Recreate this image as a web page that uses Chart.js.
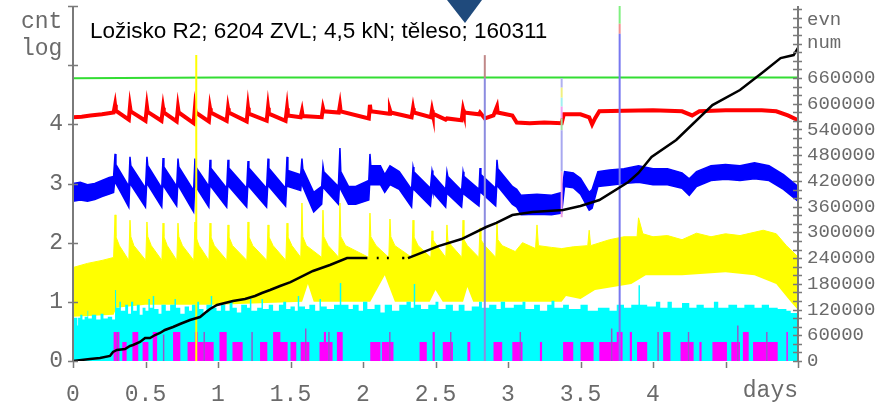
<!DOCTYPE html>
<html>
<head>
<meta charset="utf-8">
<script src="https://cdn.jsdelivr.net/npm/chart.js@4.4.1/dist/chart.umd.min.js"></script>
<style>
  html, body { margin: 0; background: #fff; }
  canvas { display: block; }
</style>
</head>
<body>
<canvas id="graf" width="885" height="405"></canvas>
<script>
// Popisky
const title = 'Ložisko R2; 6204 ZVL; 4,5 kN; těleso; 160311';
const xTickLabels = [0, 0.5, 1, 1.5, 2, 2.5, 3, 3.5, 4];
const leftTickLabels = [0, 1, 2, 3, 4];
const rightTickLabels = [0, 60000, 120000, 180000, 240000, 300000, 360000, 420000, 480000, 540000, 600000, 660000];

// Řady: [den, log10 počtu]
const greenLine = [[0, 4.78], [1, 4.79], [2, 4.79], [3, 4.79], [4, 4.79], [5, 4.79]];

const redLine = [
  [0, 4.12], [0.06, 4.13], [0.12, 4.15], [0.2, 4.17], [0.28, 4.2],
  [0.29, 4.33], [0.295, 4.23], [0.385, 4.08],
  [0.393, 4.3], [0.398, 4.22], [0.5, 4.06],
  [0.51, 4.3], [0.515, 4.21], [0.61, 4.06],
  [0.621, 4.28], [0.626, 4.2], [0.715, 4.05],
  [0.724, 4.28], [0.729, 4.2], [0.832, 4.02],
  [0.841, 4.28], [0.846, 4.2], [0.937, 4.05],
  [0.945, 4.27], [0.95, 4.2], [1.06, 4.06],
  [1.069, 4.27], [1.074, 4.2], [1.198, 4.05],
  [1.207, 4.28], [1.212, 4.18], [1.336, 4.06],
  [1.345, 4.28], [1.35, 4.18], [1.466, 4.06],
  [1.476, 4.27], [1.481, 4.15], [1.57, 4.12],
  [1.579, 4.22], [1.584, 4.14], [1.715, 4.12],
  [1.724, 4.27], [1.729, 4.22], [1.833, 4.2],
  [1.841, 4.32], [1.846, 4.22], [2.04, 4.1],
  [2.048, 4.33], [2.053, 4.22], [2.18, 4.18],
  [2.186, 4.24], [2.191, 4.2], [2.335, 4.12],
  [2.345, 4.27], [2.35, 4.2], [2.468, 4.12],
  [2.476, 4.24], [2.481, 4.18], [2.57, 4.08],
  [2.579, 4.1], [2.68, 4.07],
  [2.69, 4.25], [2.695, 4.2], [2.8, 4.17],
  [2.807, 4.2], [2.84, 4.1], [2.9, 4.15],
  [2.924, 4.3], [2.929, 4.2], [3.03, 4.15],
  [3.06, 4.03], [3.15, 4.02], [3.25, 4.03], [3.37, 4.02],
  [3.385, 4.17], [3.5, 4.17], [3.56, 4.12], [3.58, 4.0], [3.6, 4.1], [3.63, 4.22],
  [3.8, 4.23], [4.0, 4.24], [4.2, 4.22], [4.27, 4.15], [4.32, 4.22], [4.5, 4.24],
  [4.75, 4.24], [4.85, 4.22], [4.93, 4.15], [5.0, 4.07]
];

// modrá: [den, horní, dolní]
const blueBand = [
  [0, 3.0, 2.7], [0.05, 3.02, 2.72], [0.1, 2.98, 2.7], [0.15, 3.0, 2.73], [0.2, 3.05, 2.78],
  [0.25, 3.1, 2.82], [0.28, 3.12, 2.85],
  [0.29, 3.5, 3.1], [0.296, 3.32, 3.0], [0.33, 3.18, 2.85], [0.385, 2.95, 2.6],
  [0.393, 3.45, 3.08], [0.399, 3.3, 2.98], [0.5, 2.92, 2.6],
  [0.51, 3.45, 3.08], [0.516, 3.3, 2.98], [0.612, 2.92, 2.6],
  [0.621, 3.43, 3.06], [0.627, 3.28, 2.95], [0.715, 2.95, 2.62],
  [0.724, 3.42, 3.06], [0.73, 3.28, 2.95], [0.832, 2.88, 2.52],
  [0.841, 3.42, 3.06], [0.847, 3.28, 2.95], [0.937, 2.95, 2.6],
  [0.945, 3.4, 3.04], [0.951, 3.26, 2.95], [1.06, 2.92, 2.6],
  [1.069, 3.4, 3.04], [1.075, 3.26, 2.95], [1.198, 2.92, 2.6],
  [1.207, 3.38, 3.04], [1.213, 3.26, 2.95], [1.335, 2.92, 2.6],
  [1.345, 3.42, 3.06], [1.351, 3.26, 2.95], [1.466, 2.92, 2.62],
  [1.476, 3.45, 3.08], [1.482, 3.22, 2.95], [1.57, 3.15, 2.88],
  [1.579, 3.42, 3.08], [1.585, 3.25, 2.95], [1.66, 2.85, 2.52], [1.715, 2.95, 2.65],
  [1.724, 3.3, 3.0], [1.73, 3.2, 2.92], [1.83, 2.95, 2.65],
  [1.841, 3.6, 3.08], [1.847, 3.2, 2.9], [1.9, 2.95, 2.65], [1.95, 2.95, 2.65], [2.04, 3.05, 2.72],
  [2.048, 3.5, 3.08], [2.054, 3.3, 2.98], [2.12, 3.3, 2.98], [2.15, 3.15, 2.85],
  [2.186, 3.3, 2.98], [2.25, 3.2, 2.9], [2.335, 2.9, 2.6],
  [2.345, 3.28, 2.98], [2.351, 3.2, 2.9], [2.465, 2.92, 2.62],
  [2.476, 3.22, 2.92], [2.482, 3.15, 2.85], [2.57, 2.9, 2.6],
  [2.579, 3.2, 2.9], [2.585, 3.12, 2.82], [2.68, 2.88, 2.6],
  [2.69, 3.2, 2.9], [2.696, 3.12, 2.82], [2.8, 2.9, 2.62],
  [2.807, 3.26, 2.95], [2.813, 3.15, 2.85], [2.915, 2.92, 2.62],
  [2.924, 3.4, 3.04], [2.93, 3.25, 2.95], [3.03, 2.95, 2.65], [3.06, 2.9, 2.6],
  [3.09, 2.8, 2.47], [3.2, 2.82, 2.48], [3.3, 2.8, 2.47], [3.37, 2.85, 2.5],
  [3.39, 3.2, 2.95], [3.45, 3.18, 2.93], [3.5, 3.09, 2.82], [3.56, 2.85, 2.55], [3.58, 2.9, 2.58],
  [3.62, 3.2, 2.95], [3.7, 3.23, 2.97], [3.8, 3.25, 3.0], [3.9, 3.3, 3.02], [4.0, 3.25, 2.98],
  [4.1, 3.25, 2.98], [4.2, 3.18, 2.92], [4.25, 3.08, 2.8], [4.3, 3.2, 2.95], [4.4, 3.3, 3.05],
  [4.5, 3.32, 3.07], [4.6, 3.3, 3.05], [4.7, 3.35, 3.08], [4.8, 3.3, 3.05], [4.9, 3.15, 2.9],
  [5.0, 2.95, 2.7]
];

const yellowTop = [
  [0, 1.58], [0.1, 1.65], [0.2, 1.7], [0.28, 1.75],
  [0.29, 2.47], [0.296, 2.1], [0.32, 1.95], [0.385, 1.7],
  [0.393, 2.38], [0.399, 2.1], [0.42, 1.95], [0.502, 1.7],
  [0.51, 2.35], [0.516, 2.1], [0.54, 1.95], [0.613, 1.7],
  [0.621, 2.33], [0.627, 2.1], [0.65, 1.95], [0.716, 1.7],
  [0.724, 2.33], [0.73, 2.1], [0.755, 1.95], [0.833, 1.7],
  [0.841, 2.35], [0.847, 2.1], [0.87, 1.95], [0.937, 1.7],
  [0.945, 2.33], [0.951, 2.1], [0.975, 1.95], [1.061, 1.7],
  [1.069, 2.3], [1.075, 2.1], [1.1, 1.95], [1.199, 1.7],
  [1.207, 2.35], [1.213, 2.1], [1.24, 1.95], [1.337, 1.7],
  [1.345, 2.3], [1.351, 2.1], [1.38, 1.95], [1.468, 1.7],
  [1.476, 2.33], [1.482, 2.1], [1.51, 1.95], [1.571, 1.75],
  [1.579, 2.67], [1.585, 2.1], [1.61, 1.95], [1.716, 1.75],
  [1.724, 2.55], [1.73, 2.1], [1.76, 1.95], [1.833, 1.75],
  [1.841, 2.67], [1.847, 2.1], [1.88, 1.95], [2.04, 1.75],
  [2.048, 2.5], [2.054, 2.1], [2.09, 1.95], [2.178, 1.75],
  [2.186, 2.4], [2.192, 2.1], [2.22, 1.95], [2.337, 1.75],
  [2.345, 2.38], [2.351, 2.1], [2.38, 1.95], [2.468, 1.75],
  [2.476, 2.2], [2.482, 2.05], [2.51, 1.95], [2.571, 1.75],
  [2.579, 2.3], [2.585, 2.05], [2.61, 1.95], [2.682, 1.75],
  [2.69, 2.38], [2.696, 2.05], [2.72, 1.95], [2.799, 1.75],
  [2.807, 2.25], [2.813, 2.05], [2.84, 1.95], [2.916, 1.75],
  [2.924, 2.33], [2.93, 2.05], [2.96, 1.95], [3.05, 1.85],
  [3.1, 2.0], [3.19, 1.9], [3.2, 2.3], [3.21, 1.95], [3.3, 1.92], [3.37, 1.9],
  [3.45, 1.93], [3.55, 1.95], [3.56, 2.21], [3.57, 1.95], [3.7, 2.05], [3.8, 2.1],
  [3.89, 2.1], [3.9, 2.42], [3.93, 2.15], [4.0, 2.1], [4.1, 2.12], [4.2, 2.05],
  [4.3, 2.16], [4.4, 2.1], [4.5, 2.15], [4.6, 2.12], [4.76, 2.21], [4.85, 2.15],
  [4.92, 1.95], [5.0, 1.76]
];

const yellowBottom = [
  [0, 0.75], [0.28, 0.78], [0.3, 0.9], [0.5, 0.95], [1.0, 0.95], [1.58, 1.0],
  [1.62, 1.3], [1.66, 1.0], [2.05, 1.0], [2.15, 1.45], [2.22, 1.0], [2.46, 1.0],
  [2.5, 1.2], [2.55, 1.0], [2.69, 1.0], [2.72, 1.25], [2.76, 1.0], [3.37, 1.0],
  [3.4, 1.1], [3.5, 1.05], [3.6, 1.2], [3.85, 1.3], [3.95, 1.45], [4.2, 1.45],
  [4.5, 1.5], [4.7, 1.45], [4.85, 1.3], [4.95, 1.0], [5.0, 0.86]
];

// schodovité řady (hodnota platí do dalšího bodu)
const cyanSteps = [
  [0, 0.73], [0.03, 0.6], [0.035, 0.73], [0.05, 0.78], [0.065, 0.7], [0.08, 0.75], [0.1, 0.85],
  [0.105, 0.72], [0.13, 0.78], [0.16, 0.7], [0.19, 0.8], [0.21, 0.72], [0.24, 0.75], [0.27, 0.7],
  [0.29, 1.2], [0.297, 0.9], [0.32, 1.0], [0.33, 0.85], [0.36, 0.95], [0.38, 0.8], [0.4, 1.0],
  [0.415, 0.85], [0.44, 0.95], [0.46, 0.78], [0.48, 0.9], [0.5, 0.85], [0.52, 1.05], [0.53, 0.9],
  [0.55, 1.1], [0.56, 0.88], [0.59, 0.8], [0.61, 0.95], [0.64, 0.85], [0.67, 0.95], [0.7, 1.05],
  [0.71, 0.9], [0.74, 0.8], [0.77, 0.92], [0.8, 0.85], [0.82, 0.95], [0.85, 1.0], [0.87, 0.88],
  [0.9, 0.8], [0.92, 0.95], [0.95, 1.1], [0.96, 0.9], [0.99, 0.85], [1.02, 0.95], [1.05, 0.85],
  [1.08, 1.0], [1.1, 0.9], [1.13, 0.82], [1.16, 0.95], [1.2, 0.9], [1.22, 1.05], [1.23, 0.85],
  [1.27, 0.9], [1.3, 1.05], [1.31, 0.88], [1.35, 0.95], [1.38, 0.85], [1.42, 0.95], [1.45, 1.0],
  [1.47, 0.88], [1.5, 0.92], [1.53, 0.85], [1.55, 1.1], [1.56, 0.92], [1.6, 0.88], [1.63, 0.95],
  [1.67, 0.85], [1.7, 1.05], [1.71, 0.92], [1.75, 0.88], [1.8, 0.95], [1.84, 1.32], [1.85, 0.95],
  [1.9, 0.88], [1.93, 0.95], [1.97, 0.85], [2.0, 1.0], [2.03, 0.88], [2.08, 0.95], [2.12, 0.82],
  [2.15, 0.95], [2.2, 0.85], [2.25, 0.95], [2.3, 1.0], [2.33, 0.9], [2.35, 1.3], [2.36, 0.95],
  [2.4, 0.88], [2.45, 0.95], [2.5, 1.0], [2.52, 0.88], [2.57, 0.95], [2.62, 0.85], [2.66, 0.95],
  [2.7, 0.85], [2.75, 0.92], [2.8, 1.0], [2.82, 0.9], [2.87, 0.95], [2.92, 0.88], [2.95, 1.0],
  [2.98, 0.9], [3.04, 0.95], [3.1, 1.0], [3.12, 0.88], [3.18, 0.95], [3.22, 0.85], [3.27, 0.95],
  [3.3, 1.02], [3.32, 0.9], [3.38, 0.95], [3.42, 0.88], [3.5, 0.95], [3.55, 0.85], [3.62, 0.9],
  [3.7, 0.85], [3.75, 0.95], [3.8, 0.9], [3.85, 0.95], [3.9, 1.28], [3.91, 0.95], [3.96, 0.92],
  [4.02, 1.0], [4.05, 0.9], [4.1, 1.0], [4.13, 0.9], [4.2, 0.98], [4.25, 0.9], [4.3, 0.95],
  [4.35, 0.9], [4.42, 1.0], [4.45, 0.9], [4.52, 0.95], [4.58, 0.9], [4.63, 0.95], [4.7, 0.9],
  [4.75, 0.95], [4.8, 0.9], [4.86, 0.88], [4.92, 0.85], [4.95, 0.81], [5.0, 0.81]
];

const magentaSteps = [
  [0, 0], [0.28, 0.49], [0.32, 0], [0.34, 0.32], [0.37, 0], [0.41, 0.49], [0.45, 0],
  [0.48, 0.32], [0.52, 0], [0.55, 0.49], [0.58, 0], [0.69, 0.49], [0.74, 0], [0.79, 0.32],
  [0.84, 0.49], [0.86, 0.32], [0.97, 0], [1.01, 0.49], [1.06, 0], [1.1, 0.32], [1.17, 0],
  [1.29, 0.32], [1.34, 0], [1.38, 0.49], [1.43, 0.32], [1.48, 0], [1.5, 0.32], [1.54, 0],
  [1.57, 0.32], [1.63, 0], [1.7, 0.32], [1.73, 0.49], [1.745, 0.32], [1.79, 0], [1.82, 0.49],
  [1.86, 0], [2.05, 0.32], [2.12, 0], [2.13, 0.32], [2.21, 0], [2.39, 0.32], [2.44, 0],
  [2.48, 0.49], [2.495, 0], [2.55, 0.32], [2.62, 0], [2.72, 0.32], [2.74, 0], [2.9, 0.32],
  [2.96, 0], [3.03, 0.32], [3.1, 0], [3.22, 0.32], [3.235, 0], [3.38, 0.32], [3.45, 0],
  [3.5, 0.32], [3.59, 0], [3.63, 0.32], [3.75, 0.49], [3.79, 0], [3.84, 0.49], [3.855, 0],
  [3.89, 0.32], [3.96, 0], [4.07, 0.49], [4.12, 0], [4.19, 0.32], [4.28, 0], [4.32, 0.32],
  [4.335, 0], [4.41, 0.32], [4.51, 0], [4.54, 0.32], [4.6, 0], [4.62, 0.49], [4.66, 0],
  [4.69, 0.32], [4.86, 0], [4.92, 0.49], [4.93, 0], [5.0, 0]
];

const purpleSteps = [
  [0, 0], [0.3, 0.49], [0.31, 0], [0.62, 0.45], [0.63, 0], [0.9, 0.49], [0.91, 0],
  [1.23, 0.49], [1.24, 0], [1.6, 0.55], [1.61, 0], [1.76, 0.49], [1.77, 0], [2.18, 0.49],
  [2.19, 0], [2.6, 0.49], [2.61, 0], [3.08, 0.49], [3.09, 0], [3.71, 0.55], [3.72, 0],
  [4.03, 0.49], [4.04, 0], [4.24, 0.49], [4.25, 0], [4.58, 0.6], [4.59, 0], [4.78, 0.49],
  [4.79, 0], [5.0, 0]
];

// svislé čáry: [den, od, do]
const spikeSegments = [
  [0.85, 0, 5.17],
  [2.84, 0, 4.78], [2.84, 4.78, 5.17],
  [3.37, 2.43, 3.2], [3.37, 3.2, 3.9], [3.37, 3.9, 4.1], [3.37, 4.1, 4.3],
  [3.37, 4.3, 4.45], [3.37, 4.45, 4.62], [3.37, 4.62, 4.78],
  [3.77, 0, 5.53], [3.77, 5.53, 5.7], [3.77, 5.7, 6.0]
];
const spikeColors = ['#ffff00', '#8c8ce0', '#c08888', '#f0a0e0', '#a8a8f0', '#a0e0a0', '#f0a0f0',
  '#a0f0f0', '#f0f080', '#b0b0f0', '#7878f0', '#f09090', '#80f080'];

// počet událostí (pravá osa): [den, počet]
const eventCount = [
  [0, 0], [0.117, 4700], [0.186, 7000], [0.255, 11700], [0.276, 21000], [0.303, 25700],
  [0.359, 28000], [0.393, 35000], [0.414, 37300], [0.462, 44300], [0.497, 53600],
  [0.531, 53600], [0.566, 60600], [0.6, 65300], [0.634, 72300], [0.69, 79300],
  [0.738, 86300], [0.807, 95600], [0.876, 102600], [0.91, 112000], [0.945, 121300],
  [0.993, 130600], [1.048, 135300], [1.103, 140000], [1.186, 144600], [1.255, 151600],
  [1.303, 158600], [1.359, 165600], [1.428, 175000], [1.5, 184000], [1.655, 210000],
  [1.772, 224000], [1.89, 240000], [2.03, 240000], [2.06, null],
  [2.095, 240000], [2.108, 240000], [2.13, null], [2.165, 240000], [2.178, 240000], [2.2, null],
  [2.27, 240000], [2.285, 240000], [2.295, null], [2.31, 240000],
  [2.52, 268000], [2.68, 284500], [2.85, 312500], [2.92, 322000], [3.03, 340500],
  [3.17, 347500], [3.38, 352000], [3.5, 361500], [3.63, 375500], [3.83, 417500],
  [3.9, 438500], [3.99, 476000], [4.16, 515500], [4.41, 597000], [4.6, 632000],
  [4.76, 674000], [4.88, 706600], [4.97, 713600], [5.0, 730000]
];

const fontMono = 'Liberation Mono';
const gray = '#6a6a6a';

function toXY(pairs, col = 1) {
  return pairs.map(p => ({ x: p[0], y: p[col] }));
}

function series(data, opts) {
  return Object.assign({
    type: 'line', data, yAxisID: 'y', pointRadius: 0, borderWidth: 0,
    fill: false, tension: 0, spanGaps: false
  }, opts);
}

const datasets = [
  series(toXY(yellowTop), { fill: 'origin', backgroundColor: '#ffff00', borderColor: '#ffff00', borderWidth: 1, order: 9 }),
  series(toXY(yellowBottom), { fill: 'origin', backgroundColor: '#ffffff', order: 8 }),
  series(toXY(cyanSteps), { fill: 'origin', stepped: true, backgroundColor: '#00ffff', order: 7 }),
  series(toXY(magentaSteps), { fill: 'origin', stepped: true, backgroundColor: '#ff00ff', order: 6 }),
  series(toXY(purpleSteps), { fill: 'origin', stepped: true, backgroundColor: '#9955cc', order: 5 }),
  series(toXY(blueBand, 1), { borderColor: '#0000ff', borderWidth: 1.5, order: 4 }),
  series(toXY(blueBand, 2), { fill: '-1', backgroundColor: '#0000ff', borderColor: '#0000ff', borderWidth: 1.5, order: 4 }),
  series(toXY(redLine), { borderColor: '#ff0000', borderWidth: 4, order: 3 }),
  series(toXY(greenLine), { borderColor: '#33dd33', borderWidth: 2, order: 2 }),
  series(toXY(eventCount), { yAxisID: 'y2', borderColor: '#000000', borderWidth: 2.5, order: 0 })
];

// svislé čáry jako samostatné úsečky
spikeSegments.forEach((s, i) => {
  datasets.push(series([{ x: s[0], y: s[1] }, { x: s[0], y: s[2] }],
    { borderColor: spikeColors[i], borderWidth: 2, order: 1 }));
});

// osy, popisky a nadpis
const axesPlugin = {
  id: 'axesPlugin',
  afterDatasetsDraw(chart) {
    const { ctx, chartArea: a, scales: { x, y, y2 } } = chart;
    ctx.save();
    ctx.strokeStyle = '#7a7a7a';
    ctx.lineWidth = 2;
    ctx.beginPath();
    ctx.moveTo(a.left, a.top); ctx.lineTo(a.left, a.bottom);
    ctx.moveTo(a.right, a.top); ctx.lineTo(a.right, a.bottom);
    ctx.stroke();

    ctx.lineWidth = 1.5;
    ctx.beginPath();
    for (let v = 0; v <= 6; v++) {
      const py = Math.round(y.getPixelForValue(v)) + 0.5;
      ctx.moveTo(a.left - 5, py); ctx.lineTo(a.left + 5, py);
    }
    y2.ticks.forEach(t => {
      const py = Math.round(y2.getPixelForValue(t.value)) + 0.5;
      ctx.moveTo(a.right - 5, py); ctx.lineTo(a.right + 4, py);
    });
    x.ticks.forEach(t => {
      const px = Math.round(x.getPixelForValue(t.value)) + 0.5;
      ctx.moveTo(px, a.bottom + 1); ctx.lineTo(px, a.bottom + 7);
    });
    ctx.stroke();
    ctx.restore();
  },
  afterDraw(chart) {
    const { ctx, chartArea: a } = chart;
    ctx.save();
    ctx.fillStyle = '#000';
    ctx.font = '22.5px "Liberation Sans"';
    ctx.textAlign = 'left';
    ctx.textBaseline = 'alphabetic';
    ctx.fillText(title, 90, 38);

    ctx.fillStyle = gray;
    ctx.font = `23px "${fontMono}"`;
    ctx.fillText('cnt', 21, 28);
    ctx.fillText('log', 21, 55);
    ctx.textAlign = 'right';
    ctx.fillText('days', a.right, 397);

    ctx.textAlign = 'left';
    ctx.font = `19px "${fontMono}"`;
    ctx.fillText('evn', 807, 25);
    ctx.fillText('num', 807, 48);

    // značka nad grafem
    ctx.fillStyle = '#1f4a7c';
    ctx.beginPath();
    ctx.moveTo(447, 0); ctx.lineTo(482, 0); ctx.lineTo(465, 23);
    ctx.closePath();
    ctx.fill();
    ctx.restore();
  }
};

function noPadding(s) {
  s.paddingTop = 0; s.paddingBottom = 0; s.paddingLeft = 0; s.paddingRight = 0;
}

new Chart(document.getElementById('graf'), {
  type: 'line',
  data: { datasets },
  plugins: [axesPlugin],
  options: {
    responsive: false,
    animation: false,
    devicePixelRatio: 1,
    layout: { padding: { top: 6, left: 0, right: 0, bottom: 0 } },
    plugins: { legend: { display: false }, tooltip: { enabled: false } },
    scales: {
      x: {
        type: 'linear', min: 0, max: 5,
        grid: { display: false, drawTicks: false },
        border: { display: false },
        ticks: {
          stepSize: 0.5, autoSkip: false, maxRotation: 0, padding: 20,
          color: gray, font: { family: fontMono, size: 23 },
          callback: v => xTickLabels.includes(v) ? String(v) : ''
        },
        afterFit: s => { s.height = 44; noPadding(s); }
      },
      y: {
        position: 'left', min: 0, max: 6,
        grid: { display: false, drawTicks: false },
        border: { display: false },
        ticks: {
          stepSize: 1, autoSkip: false, padding: 10,
          color: gray, font: { family: fontMono, size: 23 },
          callback: v => leftTickLabels.includes(v) ? String(v) : ''
        },
        afterFit: s => { s.width = 73; noPadding(s); }
      },
      y2: {
        position: 'right', min: 0, max: 828000,
        grid: { display: false, drawTicks: false },
        border: { display: false },
        afterBuildTicks: s => {
          const t = [];
          for (let v = 0; v <= 820000; v += 20000) t.push({ value: v });
          s.ticks = t;
        },
        ticks: {
          autoSkip: false, padding: 9,
          color: gray, font: { family: fontMono, size: 19 },
          callback: v => rightTickLabels.includes(v) ? String(v) : ''
        },
        afterFit: s => { s.width = 87; noPadding(s); }
      }
    }
  }
});
</script>
</body>
</html>
